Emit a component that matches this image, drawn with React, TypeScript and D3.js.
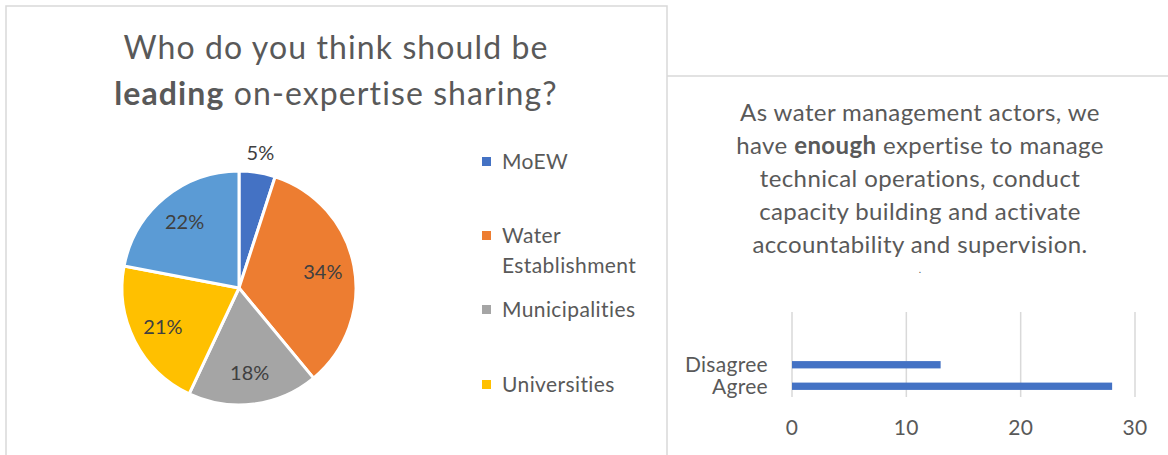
import React from "react";
import * as d3 from "d3";

const pieCategories = ["MoEW", "Water Establishment", "Municipalities", "Universities", "Other"];
const pieValues = [5, 34, 18, 21, 22];
const pieColors = ["#4472C4", "#ED7D31", "#A5A5A5", "#FFC000", "#5B9BD5"];
const legendCategories = ["MoEW", "Water Establishment", "Municipalities", "Universities"];

const barCategories = ["Disagree", "Agree"];
const barValues = [13, 28];
const barTicks = [0, 10, 20, 30];

const FONT = "Lato, 'Open Sans', sans-serif";

export default function App() {
  const W = 1168, H = 455;
  const cx = 239, cy = 288, R = 117;
  const pie = d3.pie<number>().sort(null).value((d) => d)(pieValues);
  const arc = d3.arc<d3.PieArcDatum<number>>().innerRadius(0).outerRadius(R);
  const labelArc = d3.arc<d3.PieArcDatum<number>>().innerRadius(R * 0.73).outerRadius(R * 0.73);
  const outerArc = d3.arc<d3.PieArcDatum<number>>().innerRadius(R * 1.17).outerRadius(R * 1.17);
  const total = d3.sum(pieValues);

  const legendY = [169, 243, 317, 392];

  const x = d3.scaleLinear().domain([0, 30]).range([792, 1135]);
  const y = d3.scaleBand<string>().domain(barCategories).range([354, 397]).paddingInner(0.66).paddingOuter(0.33);

  const rightLines: React.ReactNode[] = [
    <>As water management actors, we</>,
    <>have <tspan fontWeight="bold">enough</tspan> expertise to manage</>,
    <>technical operations, conduct</>,
    <>capacity building and activate</>,
    <>accountability and supervision.</>,
  ];
  const rightY = [121, 154, 187, 220, 253];

  return (
    <svg width={W} height={H} style={{ position: "absolute", left: 0, top: 0, background: "#fff" }} fontFamily={FONT}>
      <rect x={0} y={0} width={W} height={H} fill="#fff" />
      {/* panel borders */}
      <path d={`M6,${H} L6,6 L667,6 L667,${H}`} fill="none" stroke="#d9d9d9" strokeWidth={1.5} />
      <line x1={667} y1={76} x2={W} y2={76} stroke="#d9d9d9" strokeWidth={1.5} />

      {/* left title */}
      <text x={336} y={59} textAnchor="middle" fontSize={32} letterSpacing={1.1} fill="#595959">Who do you think should be</text>
      <text x={336} y={105} textAnchor="middle" fontSize={32} letterSpacing={1.1} fill="#595959">
        <tspan fontWeight="bold">leading</tspan> on-expertise sharing?
      </text>

      {/* pie */}
      <g transform={`translate(${cx},${cy})`}>
        {pie.map((d, i) => (
          <path key={i} d={arc(d) || ""} fill={pieColors[i]} stroke="#fff" strokeWidth={3} strokeLinejoin="round" />
        ))}
        {pie.map((d, i) => {
          const [lx, ly] = i === 0 ? outerArc.centroid(d) : labelArc.centroid(d);
          return (
            <text key={"l" + i} x={lx} y={ly} dy="0.35em" textAnchor="middle" fontSize={20} fill="#404040">
              {Math.round((d.value / total) * 100)}%
            </text>
          );
        })}
      </g>

      {/* legend */}
      {legendCategories.map((c, i) => (
        <g key={c}>
          <rect x={482} y={legendY[i] - 12} width={9} height={9} fill={pieColors[i]} />
          {c === "Water Establishment" ? (
            <text x={502} y={legendY[i]} fontSize={21} letterSpacing={0.4} fill="#595959">
              <tspan x={502}>Water</tspan>
              <tspan x={502} dy={30}>Establishment</tspan>
            </text>
          ) : (
            <text x={502} y={legendY[i]} fontSize={21} letterSpacing={0.4} fill="#595959">{c}</text>
          )}
        </g>
      ))}

      {/* right title */}
      {rightLines.map((l, i) => (
        <text key={i} x={920} y={rightY[i]} textAnchor="middle" fontSize={24} letterSpacing={0.4} fill="#595959">{l}</text>
      ))}
      <text x={920} y={273} textAnchor="middle" fontSize={10} fill="#595959">.</text>

      {/* bar chart */}
      {barTicks.map((t) => (
        <g key={t}>
          <line x1={x(t)} x2={x(t)} y1={312} y2={397} stroke="#d9d9d9" strokeWidth={1.5} />
          <text x={x(t)} y={435} textAnchor="middle" fontSize={21} letterSpacing={0.3} fill="#595959">{t}</text>
        </g>
      ))}
      {barCategories.map((c, i) => (
        <g key={c}>
          <rect x={x(0)} y={y(c)!} width={x(barValues[i]) - x(0)} height={y.bandwidth()} fill="#4472C4" />
          <text x={768} y={y(c)! + y.bandwidth() / 2} dy="0.35em" textAnchor="end" fontSize={21} letterSpacing={0.3} fill="#595959">{c}</text>
        </g>
      ))}
    </svg>
  );
}
